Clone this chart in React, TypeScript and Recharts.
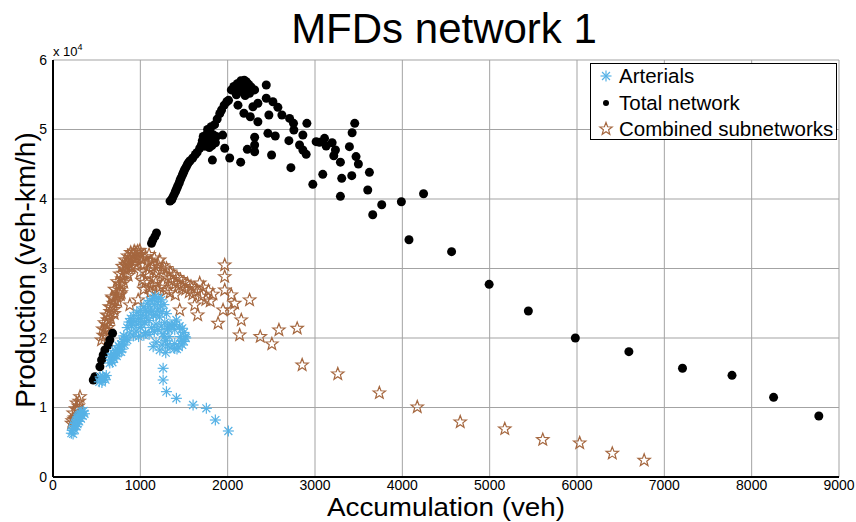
import React from "react";
import { CartesianGrid, Scatter, ScatterChart, XAxis, YAxis } from "recharts";

const xTicks = [0, 1000, 2000, 3000, 4000, 5000, 6000, 7000, 8000, 9000];
const yTicks = [0, 10000, 20000, 30000, 40000, 50000, 60000];

// Arterials [accumulation, production]
const arterials: [number, number][] = [
  [210, 6300], [220, 6700], [230, 7000], [240, 7400], [250, 7700], [260, 7900], [270, 8200], [280, 8500],
  [290, 8700], [300, 8900], [310, 9200], [320, 9000], [330, 9400], [350, 9500], [250, 6800], [280, 7600],
  [300, 8000], [320, 8400], [230, 6200], [270, 7300], [340, 8800], [360, 9100],
  [530, 13700], [550, 14100], [570, 14500], [590, 14300], [610, 14600], [560, 13600], [600, 14000], [540, 14400],
  [650, 16400], [670, 16800], [690, 17100], [700, 17600], [720, 17900], [740, 18300], [760, 18700], [780, 19100],
  [800, 19500], [820, 19800], [840, 20100], [660, 17300], [700, 17000], [730, 17400], [760, 18000], [790, 18400],
  [820, 19000], [680, 16500], [850, 19700], [710, 18200], [690, 17800], [750, 18900], [810, 20300], [780, 18000],
  [850, 21500], [870, 22300], [890, 22800], [900, 21800], [920, 23200], [940, 22400], [950, 21000], [960, 23700],
  [980, 22800], [1000, 24000], [1000, 21500], [1020, 23300], [1040, 24500], [1050, 22200], [1060, 20800], [1080, 25000],
  [1090, 23700], [1100, 22500], [1110, 25400], [1120, 24300], [1130, 21500], [1140, 25700], [1150, 23300], [1160, 24800],
  [1170, 26000], [1180, 22000], [1190, 25200], [1200, 24000], [1210, 25800], [1220, 23000], [1230, 24600], [1240, 25500],
  [880, 20700], [920, 20300], [980, 20200], [1040, 20400], [1100, 20500], [1160, 20900], [1200, 21200], [1240, 21700],
  [1280, 22200], [1300, 23500], [1320, 21300], [1340, 22000], [1260, 20600], [900, 22300], [960, 22000], [1020, 21900],
  [1070, 23000], [1130, 23800], [1180, 23300], [1250, 23800], [1270, 24800], [1060, 24000], [1000, 22800],
  [1514, 20190], [1480, 21400], [1394, 21900], [1310, 21400], [1274, 20190], [1310, 19000], [1394, 18500], [1480, 19000],
  [1450, 21700], [1340, 18600], [1500, 20800], [1500, 19500], [1290, 19600], [1420, 18400], [1460, 20200], [1330, 20200],
  [1394, 19200], [1394, 21200], [1440, 18700], [1360, 21800], [1520, 20000], [1470, 19600],
  [1147, 18750], [1223, 18270], [1291, 17890], [1180, 19400], [1250, 19000], [1413, 22590],
  [1261, 15640], [1261, 13960], [1299, 12280], [1413, 11320], [1604, 10360], [1756, 9880], [1859, 8200], [2008, 6620],
];

// Total network
const totalNetwork: [number, number][] = [
  [461, 13960], [480, 14430], [537, 15870], [556, 16830], [575, 17550], [594, 18270], [632, 18990], [651, 19710],
  [682, 20680], [1128, 33620], [1143, 34100], [1166, 34580], [1185, 35100],
  [1340, 39700], [1360, 39900], [1370, 40200], [1385, 40600], [1400, 41000], [1410, 41300], [1420, 41600], [1430, 41900],
  [1445, 42300], [1455, 42700], [1465, 43000], [1480, 43400], [1490, 43700], [1500, 44000], [1510, 44300], [1525, 44600],
  [1540, 45000], [1555, 45300], [1570, 45500], [1600, 45900], [1630, 46400], [1650, 46700],
  [1680, 47300], [1700, 47800], [1710, 48400], [1720, 49000], [1740, 47600], [1750, 48300], [1760, 49300], [1770, 50000],
  [1780, 48000], [1790, 48800], [1800, 49600], [1810, 50400], [1820, 47700], [1830, 48500], [1840, 49200], [1850, 50700],
  [1860, 48100], [1870, 49000], [1730, 48700], [1790, 47400], [1880, 51500], [1910, 52300], [1930, 52800], [1960, 53500],
  [1990, 54000], [2010, 54200], [1825, 45600], [1966, 47300], [2023, 45900], [2149, 45300], [1943, 49200],
  [2042, 55700], [2070, 56200], [2090, 55400], [2110, 56600], [2130, 55900], [2137, 56400], [2150, 57000], [2160, 55500],
  [2180, 56300], [2190, 57100], [2213, 56880], [2220, 55900], [2240, 56500], [2251, 55200], [2270, 56100], [2100, 55000],
  [2200, 54900], [2309, 55700], [2118, 53500], [2442, 56400], [2442, 54500], [2518, 54000], [2346, 53770], [2289, 53280],
  [2186, 52330], [2259, 51840], [2346, 51120], [2472, 52090], [2575, 53190], [2621, 52090], [2709, 51600], [2754, 50890],
  [2907, 50890], [2758, 49930], [2861, 49210], [2461, 49450], [2545, 49070], [2701, 48390], [2823, 47770], [2309, 48880],
  [2309, 47770], [2225, 47150], [2309, 46800], [2861, 47050], [2899, 46430], [3013, 48250], [3051, 48150], [3109, 48730],
  [3128, 47630], [3196, 48100], [3234, 47050], [3215, 46230], [3291, 45300], [3394, 47530], [3425, 49540], [3455, 50890],
  [3470, 46100], [3497, 45040], [3623, 43840], [3421, 43360], [3306, 42970], [3089, 43550], [2975, 42110], [2724, 44510],
  [2503, 46330], [3604, 41300], [3291, 40380], [3764, 39180], [3661, 37740], [3989, 39610], [4243, 40760], [4076, 34140],
  [4564, 32420], [4994, 27720], [5443, 23890], [5981, 20000], [6594, 18030], [7208, 15640], [7775, 14630], [8251, 11460],
  [8769, 8780],
];

// Combined subnetworks
const combined: [number, number][] = [
  [213, 7720], [232, 9200], [250, 8500], [270, 10640], [290, 10200], [309, 11550], [260, 9800], [240, 8300],
  [280, 9600], [220, 8100], [300, 10900],
  [556, 19700], [575, 20400], [594, 21150], [610, 21900], [625, 22600], [640, 23200], [655, 23800], [670, 24400],
  [690, 25000], [709, 25470], [730, 26000], [750, 26500], [766, 26900], [780, 27700], [790, 28500], [804, 29300],
  [820, 29900], [840, 30400], [860, 30900], [880, 31220], [900, 31600], [920, 32000], [950, 32300], [970, 32500],
  [994, 32600], [600, 20300], [630, 21500], [660, 22800], [700, 24100], [740, 25300], [770, 26200], [810, 28000],
  [850, 29300], [890, 30200], [930, 31000], [960, 31500], [680, 25700], [760, 27800], [830, 30600], [900, 30300],
  [570, 21300], [590, 22200], [615, 23300], [645, 24500], [675, 25900], [705, 27000], [735, 28100], [765, 29200],
  [795, 30300], [825, 31200], [855, 31800], [890, 32300], [930, 32500], [620, 21000], [700, 23500], [780, 26500],
  [860, 29000], [940, 30500], [1010, 31400],
  [1000, 32000], [1020, 31300], [1040, 30500], [1060, 31700], [1080, 30800], [1100, 32000], [1100, 29800], [1120, 31000],
  [1140, 30200], [1160, 31500], [1180, 29400], [1200, 30600], [1220, 31200], [1240, 29800], [1260, 30400], [1280, 29000],
  [1300, 30000], [1320, 28600], [1340, 29500], [1360, 28200], [1380, 29100], [1400, 27800], [1420, 28700], [1440, 27500],
  [1460, 28400], [1480, 27300], [1500, 28000], [1520, 27000], [1540, 27800], [1560, 26600], [1580, 27400], [1600, 26300],
  [1620, 27100], [1650, 26700], [1680, 27900], [1700, 26000], [1720, 27300], [1750, 25500], [1780, 26800], [1800, 25300],
  [1830, 26300], [1060, 28000], [1100, 27200], [1140, 27500], [1180, 28000], [1220, 27300], [1080, 29200], [1160, 28500],
  [1000, 29500], [1020, 28300], [1040, 27000], [1120, 26600], [1200, 26800], [1260, 27700], [1300, 26900], [1340, 26500],
  [1400, 26200], [880, 24750], [975, 25470], [1451, 24030], [1657, 23310], [1623, 24750],
  [1966, 30500], [1966, 28820], [1966, 26900], [2042, 26190], [2080, 24990], [1947, 24030], [2042, 24030], [2251, 25470],
  [1890, 22110], [2156, 22590], [2137, 20430], [2373, 20190], [2506, 19140], [2587, 21150], [2796, 21390], [2853, 16110],
  [3261, 14820], [3737, 12090], [4171, 10070], [4663, 7910], [5173, 6910], [5608, 5370], [6031, 4890], [6404, 3400],
  [6769, 2400],
];

const toPoints = (rows: [number, number][]) => rows.map(([x, y]) => ({ x, y }));

const BLUE = "#56b2e6";
const BROWN = "#a5673f";

function Asterisk({ cx, cy }: any) {
  const r = 5.5;
  const d = r * 0.72;
  return (
    <g stroke={BLUE} strokeWidth={1.2}>
      <line x1={cx - r} y1={cy} x2={cx + r} y2={cy} />
      <line x1={cx} y1={cy - r} x2={cx} y2={cy + r} />
      <line x1={cx - d} y1={cy - d} x2={cx + d} y2={cy + d} />
      <line x1={cx - d} y1={cy + d} x2={cx + d} y2={cy - d} />
    </g>
  );
}

function Dot({ cx, cy }: any) {
  return <circle cx={cx} cy={cy} r={4.5} fill="#000" />;
}

function starPath(cx: number, cy: number, R: number) {
  const r = R * 0.42;
  let d = "";
  for (let i = 0; i < 10; i++) {
    const a = -Math.PI / 2 + (i * Math.PI) / 5;
    const rad = i % 2 === 0 ? R : r;
    d += (i === 0 ? "M" : "L") + (cx + rad * Math.cos(a)).toFixed(2) + "," + (cy + rad * Math.sin(a)).toFixed(2);
  }
  return d + "Z";
}

function Star({ cx, cy }: any) {
  return <path d={starPath(cx, cy, 6.5)} fill="none" stroke={BROWN} strokeWidth={1.2} />;
}

const font = "'Liberation Sans', Arial, sans-serif";
const tickFont = { fontFamily: font, fontSize: 14, fill: "#000" };

export default function App() {
  return (
    <div style={{ position: "absolute", left: 0, top: 0, width: 856, height: 522, background: "#fff", fontFamily: font }}>
      <ScatterChart width={856} height={522} margin={{ top: 60, right: 17, bottom: 15, left: 13 }}>
        <CartesianGrid stroke="#a3a3a3" strokeWidth={1} />
        <XAxis
          type="number"
          dataKey="x"
          domain={[0, 9000]}
          ticks={xTicks}
          interval={0}
          height={30}
          tick={tickFont}
          tickLine={false}
          tickSize={0}
          tickMargin={3}
          axisLine={{ stroke: "#000", strokeWidth: 2 }}
        />
        <YAxis
          type="number"
          dataKey="y"
          domain={[0, 60000]}
          ticks={yTicks}
          interval={0}
          width={40}
          tick={tickFont}
          tickLine={false}
          tickSize={0}
          tickMargin={6}
          tickFormatter={(v: number) => String(v / 10000)}
          axisLine={{ stroke: "#000", strokeWidth: 2 }}
        />
        <Scatter data={toPoints(combined)} shape={Star} isAnimationActive={false} />
        <Scatter data={toPoints(totalNetwork)} shape={Dot} isAnimationActive={false} />
        <Scatter data={toPoints(arterials)} shape={Asterisk} isAnimationActive={false} />
      </ScatterChart>

      <div style={{ position: "absolute", left: 0, width: 888, top: 8, textAlign: "center", fontSize: 42, lineHeight: "42px", color: "#000" }}>
        MFDs network 1
      </div>
      <div
        style={{
          position: "absolute",
          left: 0,
          width: 892,
          top: 494,
          textAlign: "center",
          fontSize: 26,
          lineHeight: "26px",
          color: "#000",
          transform: "scaleX(1.07)",
          transformOrigin: "446px 0",
        }}
      >
        Accumulation (veh)
      </div>
      <div
        style={{
          position: "absolute",
          left: 26,
          top: 270,
          transform: "translate(-50%, -50%) rotate(-90deg)",
          whiteSpace: "nowrap",
          fontSize: 28,
          lineHeight: "28px",
          color: "#000",
        }}
      >
        Production (veh-km/h)
      </div>
      <div style={{ position: "absolute", left: 53, top: 40, fontSize: 13, lineHeight: "14px" }}>
        x 10<sup style={{ fontSize: 9, verticalAlign: "6px" }}>4</sup>
      </div>

      <div
        style={{
          position: "absolute",
          left: 590,
          top: 63,
          width: 245,
          height: 75,
          border: "1.5px solid #000",
          background: "#fff",
          fontSize: 20.5,
        }}
      >
        {[
          { label: "Arterials", icon: <Asterisk cx={9} cy={9} /> },
          { label: "Total network", icon: <circle cx={9} cy={9} r={3} fill="#000" /> },
          { label: "Combined subnetworks", icon: <Star cx={9} cy={9} /> },
        ].map((row, i) => (
          <div key={row.label} style={{ position: "absolute", left: 6, top: 0 + i * 26.5, height: 24, display: "flex", alignItems: "center" }}>
            <svg width={18} height={18} style={{ marginRight: 4 }}>
              {row.icon}
            </svg>
            <span>{row.label}</span>
          </div>
        ))}
      </div>
    </div>
  );
}
